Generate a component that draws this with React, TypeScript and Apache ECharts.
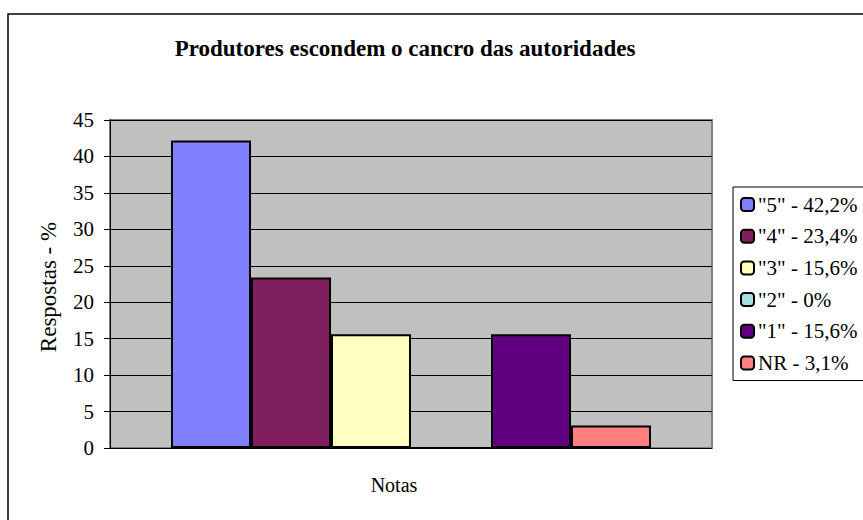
import React, { useEffect, useRef } from "react";
import * as echarts from "echarts";

const titleText = "Produtores escondem o cancro das autoridades";
const categories = ["Notas"];
const seriesNames = ['"5" - 42,2%', '"4" - 23,4%', '"3" - 15,6%', '"2" - 0%', '"1" - 15,6%', "NR - 3,1%"];
const seriesValues = [42.2, 23.4, 15.6, 0, 15.6, 3.1];
const seriesColors = ["#8080FF", "#7F1F5F", "#FFFFC0", "#A6E0E0", "#600080", "#FF8080"];
const yAxisName = "Respostas - %";
const xAxisName = "Notas";

const FONT = "'Liberation Serif', 'Times New Roman', Times, serif";

export default function App() {
  const ref = useRef<HTMLDivElement>(null);
  useEffect(() => {
    if (!ref.current) return;
    const chart = echarts.init(ref.current, null, { renderer: "svg" });
    chart.setOption({
      animation: false,
      backgroundColor: "#ffffff",
      textStyle: { fontFamily: FONT },
      grid: {
        left: 110,
        top: 120,
        right: 151,
        bottom: 72,
        show: true,
        backgroundColor: "#C0C0C0",
        borderColor: "#808080",
        borderWidth: 2,
        containLabel: false,
      },
      legend: {
        orient: "vertical",
        left: 733,
        top: 187,
        padding: [7, 40, 7, 7],
        itemGap: 10.7,
        itemWidth: 13,
        itemHeight: 13,
        borderColor: "#000",
        borderWidth: 1,
        backgroundColor: "#fff",
        textStyle: { fontFamily: FONT, fontSize: 21, color: "#000", lineHeight: 21, padding: [0, 0, 0, -1] },
        data: seriesNames,
      },
      xAxis: {
        type: "category",
        data: categories,
        axisLine: { show: false },
        axisTick: { show: false },
        axisLabel: { show: false },
      },
      yAxis: {
        type: "value",
        min: 0,
        max: 45,
        interval: 5,
        axisLine: { show: true, lineStyle: { color: "#000", width: 1 } },
        axisTick: { show: true, length: 6, lineStyle: { color: "#000" } },
        axisLabel: { fontFamily: FONT, fontSize: 21, color: "#000", margin: 16 },
        splitLine: { show: true, lineStyle: { color: "#000", width: 1 } },
      },
      series: seriesNames.map((name, i) => ({
        name,
        type: "bar",
        data: [seriesValues[i]],
        barWidth: 80,
        barGap: "0%",
        itemStyle: { color: seriesColors[i], borderColor: "#000", borderWidth: 2 },
      })),
      graphic: [
        {
          type: "rect",
          shape: { x: 8, y: 14, width: 900, height: 600 },
          style: { fill: "none", stroke: "#000", lineWidth: 1.5 },
          silent: true,
          z: 100,
        },
        {
          type: "text",
          x: 405,
          y: 48,
          style: {
            text: titleText,
            fontFamily: FONT,
            fontSize: 23,
            fontWeight: "bold",
            fill: "#000",
            textAlign: "center",
            textVerticalAlign: "middle",
          },
        },
        {
          type: "text",
          x: 48,
          y: 287,
          rotation: Math.PI / 2,
          style: {
            text: yAxisName,
            fontFamily: FONT,
            fontSize: 23,
            fill: "#000",
            textAlign: "center",
            textVerticalAlign: "middle",
          },
        },
        {
          type: "text",
          x: 394,
          y: 485,
          style: {
            text: xAxisName,
            fontFamily: FONT,
            fontSize: 20,
            fill: "#000",
            textAlign: "center",
            textVerticalAlign: "middle",
          },
        },
      ],
    });
    return () => chart.dispose();
  }, []);
  return (
    <div
      ref={ref}
      style={{ position: "fixed", left: 0, top: 0, width: 863, height: 520 }}
    />
  );
}
